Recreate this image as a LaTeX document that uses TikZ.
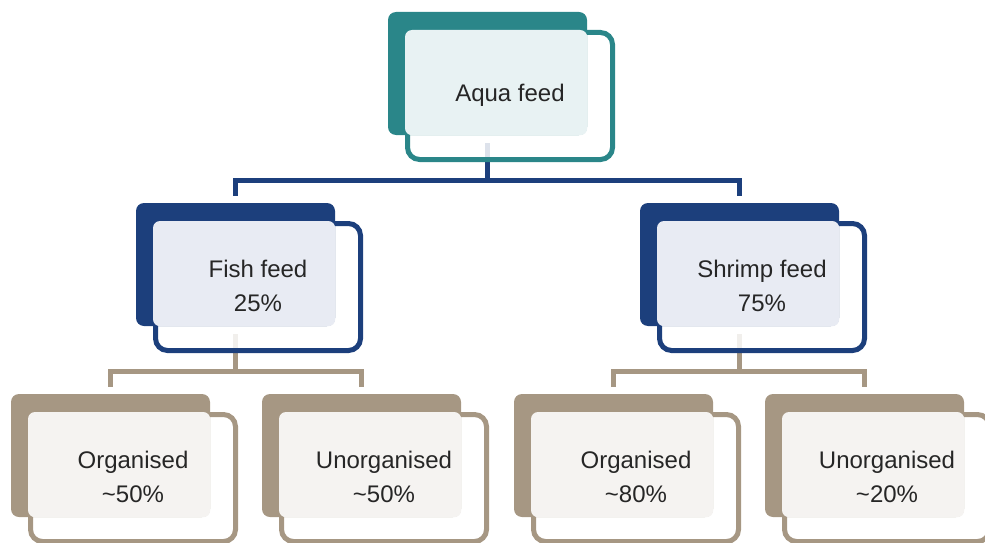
\documentclass[tikz,border=0pt]{standalone}
\usepackage{fontspec}
\setmainfont{Liberation Sans}
\definecolor{teal1}{HTML}{2A8689}
\definecolor{tealtint}{HTML}{E8F2F3}
\definecolor{blue1}{HTML}{1C3F7C}
\definecolor{bluetint}{HTML}{E8EBF3}
\definecolor{tan1}{HTML}{A69783}
\definecolor{tantint}{HTML}{F5F3F1}
\pgfdeclarelayer{background}
\pgfsetlayers{background,main}
\tikzset{
  backbox/.style={rectangle, rounded corners=8pt, inner sep=0pt, minimum width=199pt, minimum height=123pt},
  frontbox/.style={rectangle, rounded corners=12pt, line width=5pt, inner sep=0pt, minimum width=205pt, minimum height=127pt, fill=white, fill opacity=0.85},
  boxtext/.style={align=center, inner sep=0pt, text=black!85, font=\fontsize{24}{34}\selectfont},
  conn/.style={line width=5pt, line join=miter},
}
\newcommand\orgbox[6]{%
  \node[frontbox, draw=#4] (#1f) at ({#2+122},{#3+84}) {};
  \node[backbox, fill=#4] (#1b) at ({#2+99.5},{#3+61.5}) {};
  \fill[#5, rounded corners=7pt] (#1f.north west) rectangle (#1b.south east);
  \node[boxtext] (#1) at ([yshift=1pt]#1f.center) {#6};
}
\begin{document}
\begin{tikzpicture}[x=1pt, y=-1pt]
\useasboundingbox (0,0) rectangle (985,543);
\orgbox{aqua}{388}{12}{teal1}{tealtint}{Aqua feed}
\orgbox{fish}{136}{203}{blue1}{bluetint}{Fish feed\\25\%}
\orgbox{shrimp}{640}{203}{blue1}{bluetint}{Shrimp feed\\75\%}
\orgbox{orgA}{11}{394}{tan1}{tantint}{Organised\\\textasciitilde50\%}
\orgbox{unorgA}{262}{394}{tan1}{tantint}{Unorganised\\\textasciitilde50\%}
\orgbox{orgB}{514}{394}{tan1}{tantint}{Organised\\\textasciitilde80\%}
\orgbox{unorgB}{765}{394}{tan1}{tantint}{Unorganised\\\textasciitilde20\%}
\coordinate (barA) at (0,180);
\coordinate (barB) at (0,371);
\begin{pgfonlayer}{background}
\draw[conn, blue1] ([yshift=-8pt]aquab.south) -- (aquab.south |- barA);
\draw[conn, blue1] ([yshift=7pt]fishb.north) -- (fishb.north |- barA) -- (shrimpb.north |- barA) -- ([yshift=7pt]shrimpb.north);
\draw[conn, tan1] ([yshift=-8pt]fishb.south) -- (fishb.south |- barB);
\draw[conn, tan1] ([yshift=7pt]orgAb.north) -- (orgAb.north |- barB) -- (unorgAb.north |- barB) -- ([yshift=7pt]unorgAb.north);
\draw[conn, tan1] ([yshift=-8pt]shrimpb.south) -- (shrimpb.south |- barB);
\draw[conn, tan1] ([yshift=7pt]orgBb.north) -- (orgBb.north |- barB) -- (unorgBb.north |- barB) -- ([yshift=7pt]unorgBb.north);
\end{pgfonlayer}
\end{tikzpicture}
\end{document}
